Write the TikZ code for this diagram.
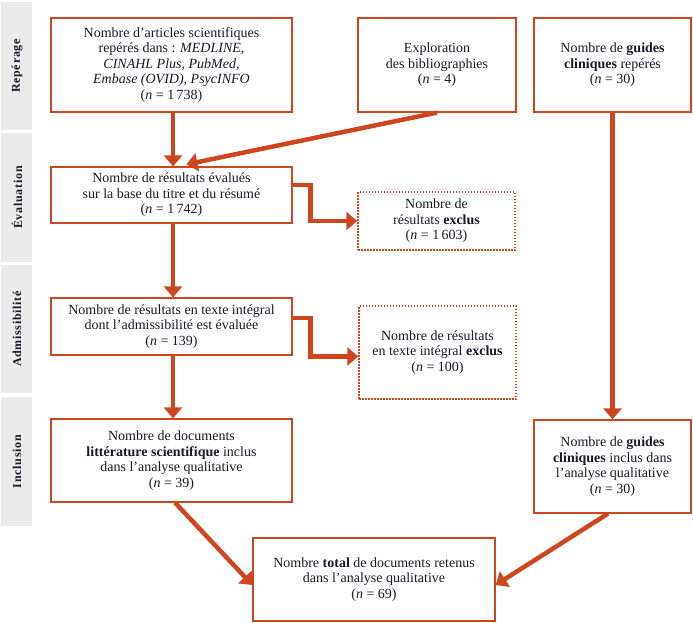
\documentclass[tikz,border=0pt]{standalone}
\usepackage{fontspec}
\setmainfont{Liberation Serif}
\usetikzlibrary{arrows.meta}
\definecolor{rust}{RGB}{207,70,30}
\definecolor{barbg}{RGB}{235,235,235}
\definecolor{ink}{RGB}{25,25,40}
\begin{document}
\begin{tikzpicture}[x=1pt,y=-1pt,
  box/.style={draw=rust,line width=1.2pt,fill=white,inner sep=0pt,align=center,text=ink,
    font=\fontsize{14}{15.5}\selectfont},
  exbox/.style={box,draw=rust,line width=1.5pt,dash pattern=on 1.5pt off 1.5pt},
  flow/.style={draw=rust,line width=4.5pt,-{Triangle[width=18pt,length=11pt]}},
  bar/.style={fill=barbg,draw=none},
  barlabel/.style={rotate=90,text=ink,font=\fontsize{12}{14}\selectfont\bfseries\addfontfeature{LetterSpace=6}}
]
\useasboundingbox (0,0) rectangle (693,623);
% side bars
\fill[barbg] (1,2) rectangle (32,130);
\fill[barbg] (1,133) rectangle (32,262);
\fill[barbg] (1,265) rectangle (32,393);
\fill[barbg] (1,397) rectangle (32,526);
\node[barlabel] (l1) at (17,66) {Repérage};
\node[barlabel] (l2) at (17,197.5) {Évaluation};
\node[barlabel] (l3) at (17,329) {Admissibilité};
\node[barlabel] (l4) at (17,461.5) {Inclusion};
% boxes
\node[box,minimum width=241pt,minimum height=94pt] (A) at (171.5,65)
  {Nombre d’articles scientifiques\\repérés dans : \textit{MEDLINE,}\\\textit{CINAHL Plus, PubMed,}\\\textit{Embase (OVID), PsycINFO}\\(\textit{n} = 1\,738)};
\node[box,minimum width=158pt,minimum height=94pt] (B) at (437,65)
  {Exploration\\des bibliographies\\(\textit{n} = 4)};
\node[box,minimum width=157pt,minimum height=94pt] (C) at (612.5,65)
  {Nombre de \textbf{guides}\\\textbf{cliniques} repérés\\(\textit{n} = 30)};
\node[box,minimum width=241pt,minimum height=56pt] (E) at (171.5,195)
  {Nombre de résultats évalués\\sur la base du titre et du résumé\\(\textit{n} = 1\,742)};
\node[exbox,minimum width=157pt,minimum height=58pt] (X1) at (436.5,221)
  {Nombre de\\résultats \textbf{exclus}\\(\textit{n} = 1\,603)};
\node[box,minimum width=241pt,minimum height=57pt] (D) at (171.5,326.5)
  {Nombre de résultats en texte intégral\\dont l’admissibilité est évaluée\\(\textit{n} = 139)};
\node[exbox,minimum width=157pt,minimum height=93pt] (X2) at (437.5,352.5)
  {Nombre de résultats\\en texte intégral \textbf{exclus}\\(\textit{n} = 100)};
\node[box,minimum width=241pt,minimum height=83pt] (L) at (171.5,460.5)
  {Nombre de documents\\\textbf{littérature scientifique} inclus\\dans l’analyse qualitative\\(\textit{n} = 39)};
\node[box,minimum width=157pt,minimum height=93pt] (R) at (612.5,466.5)
  {Nombre de \textbf{guides}\\\textbf{cliniques} inclus dans\\l’analyse qualitative\\(\textit{n} = 30)};
\node[box,minimum width=242pt,minimum height=83pt] (T) at (374,579.5)
  {Nombre \textbf{total} de documents retenus\\dans l’analyse qualitative\\(\textit{n} = 69)};
% connectors
\draw[flow] ([xshift=1.5pt]A.south) -- ([xshift=1.5pt]E.north);
\draw[flow] (B.south) -- ([xshift=15pt,yshift=2pt]E.north);
\draw[flow] ([yshift=10pt]E.east) -- ++(18,0) |- (X1.west);
\draw[flow] ([xshift=1.5pt]E.south) -- ([xshift=1.5pt]D.north);
\draw[flow] ([yshift=8.5pt]D.east) -- ++(18,0) |- ([yshift=-4pt]X2.west);
\draw[flow] ([xshift=1.5pt]D.south) -- ([xshift=1.5pt]L.north);
\draw[flow] (C.south) -- (R.north);
\draw[flow] ([xshift=3.5pt]L.south) -- ([yshift=-5.5pt]T.west);
\draw[flow] ([xshift=-4.5pt]R.south) -- ([yshift=-5.5pt]T.east);
\end{tikzpicture}
\end{document}
